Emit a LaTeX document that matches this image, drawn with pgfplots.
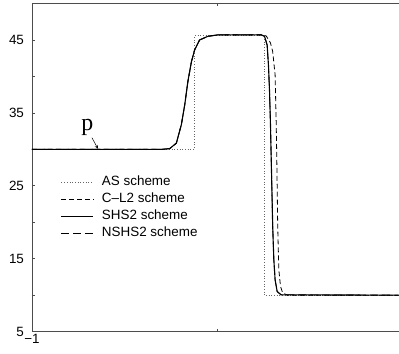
\documentclass[border=0pt]{standalone}
\usepackage{pgfplots}
\pgfplotsset{compat=1.18}
\usepackage{fontspec}
\setmainfont{Liberation Sans}
\newfontfamily\seriffont{Liberation Serif}
\begin{document}
\begin{tikzpicture}
\begin{axis}[
  name=ax,
  scale only axis,
  width=367bp, height=328.5bp,
  xmin=-1, xmax=0.975, ymin=5, ymax=50,
  axis x line*=box, axis y line*=left,
  axis line style={gray!60!black, line width=0.9pt},
  xtick={-1,0}, xticklabels={−1,},
  ytick={5,15,25,35,45},
  minor ytick={10,20,30,40},
  tick align=inside,
  major tick length=3pt, minor tick length=3pt,
  tick style={gray!60!black, line width=0.6pt},
  ticklabel style={font=\fontsize{13.5}{15}\selectfont},
  yticklabel style={xshift=-4.5bp},
  xticklabel style={yshift=1bp},
  /pgf/number format/assume math mode=true,
  xtick pos=both, ytick pos=left,
  clip=true,
  legend style={draw=none, fill=none, at={(axis cs:-0.845,26.4)}, anchor=north west,
    font=\fontsize{13.5}{15}\selectfont, inner sep=0pt, row sep=4bp, column sep=8bp,
    nodes={inner sep=0pt, text height=10bp, text depth=3bp}},
  legend cell align=left,
  legend image code/.code={\draw[#1] (0bp,0bp) -- (32bp,0bp);},
]
% AS scheme (dotted)
\addplot[gray!80!black, line width=0.7pt, dotted] coordinates {
 (-1,30) (-0.125,30) (-0.125,45.6) (0.25,45.6) (0.25,10) (0.975,10)};
\addlegendentry{AS scheme}
% C-L2 scheme (dashed)
\addplot[black, line width=0.8pt, dash pattern=on 5pt off 3pt] coordinates {
 (-1,30) (-0.30,30) (-0.258,30.1) (-0.222,30.85) (-0.195,33.4) (-0.177,36.1) (-0.160,39.3)
 (-0.141,42.0) (-0.124,43.6) (-0.097,45.0) (-0.052,45.5) (0.002,45.7)
 (0.24,45.7) (0.262,45.55) (0.285,44.6) (0.297,43.4) (0.310,40.2) (0.316,33.4)
 (0.319,28.8) (0.324,19.4) (0.330,13.5) (0.339,11.2) (0.351,10.3) (0.376,10.0) (0.975,10)};
\addlegendentry{C--L2 scheme}
% SHS2 scheme (solid)
\addplot[black, line width=1.1pt] coordinates {
 (-1,30) (-0.30,30) (-0.258,30.1) (-0.222,30.85) (-0.195,33.4) (-0.177,36.1) (-0.160,39.3)
 (-0.141,42.0) (-0.124,43.6) (-0.097,45.0) (-0.052,45.5) (0.002,45.7)
 (0.235,45.7) (0.253,45.5) (0.267,44.3) (0.274,41.6) (0.280,37.9) (0.285,33.4)
 (0.289,28.8) (0.297,19.4) (0.303,14.9) (0.310,12.1) (0.321,10.5) (0.342,10.05) (0.975,10)};
\addlegendentry{SHS2 scheme}
% NSHS2 scheme (long dashed)
\addplot[black, line width=0.8pt, dash pattern=on 8pt off 4pt] coordinates {
 (-1,30) (-0.30,30) (-0.258,30.1) (-0.222,30.85) (-0.195,33.4) (-0.177,36.1) (-0.160,39.3)
 (-0.141,42.0) (-0.124,43.6) (-0.097,45.0) (-0.052,45.5) (0.002,45.7)
 (0.235,45.7) (0.253,45.5) (0.267,44.3) (0.274,41.6) (0.280,37.9) (0.285,33.4)
 (0.289,28.8) (0.297,19.4) (0.303,14.9) (0.310,12.1) (0.321,10.5) (0.342,10.05) (0.975,10)};
\addlegendentry{NSHS2 scheme}
\node[font=\seriffont\fontsize{24}{26}\selectfont, inner sep=0pt] at (axis cs:-0.702,33.0) {p};
\draw[->, line width=0.5pt, >=stealth] (axis cs:-0.677,31.6) -- (axis cs:-0.645,30.1);
\end{axis}
\path ([xshift=-32bp,yshift=-22bp]ax.south west) rectangle ([yshift=3.5bp]ax.north east);
\end{tikzpicture}
\end{document}
